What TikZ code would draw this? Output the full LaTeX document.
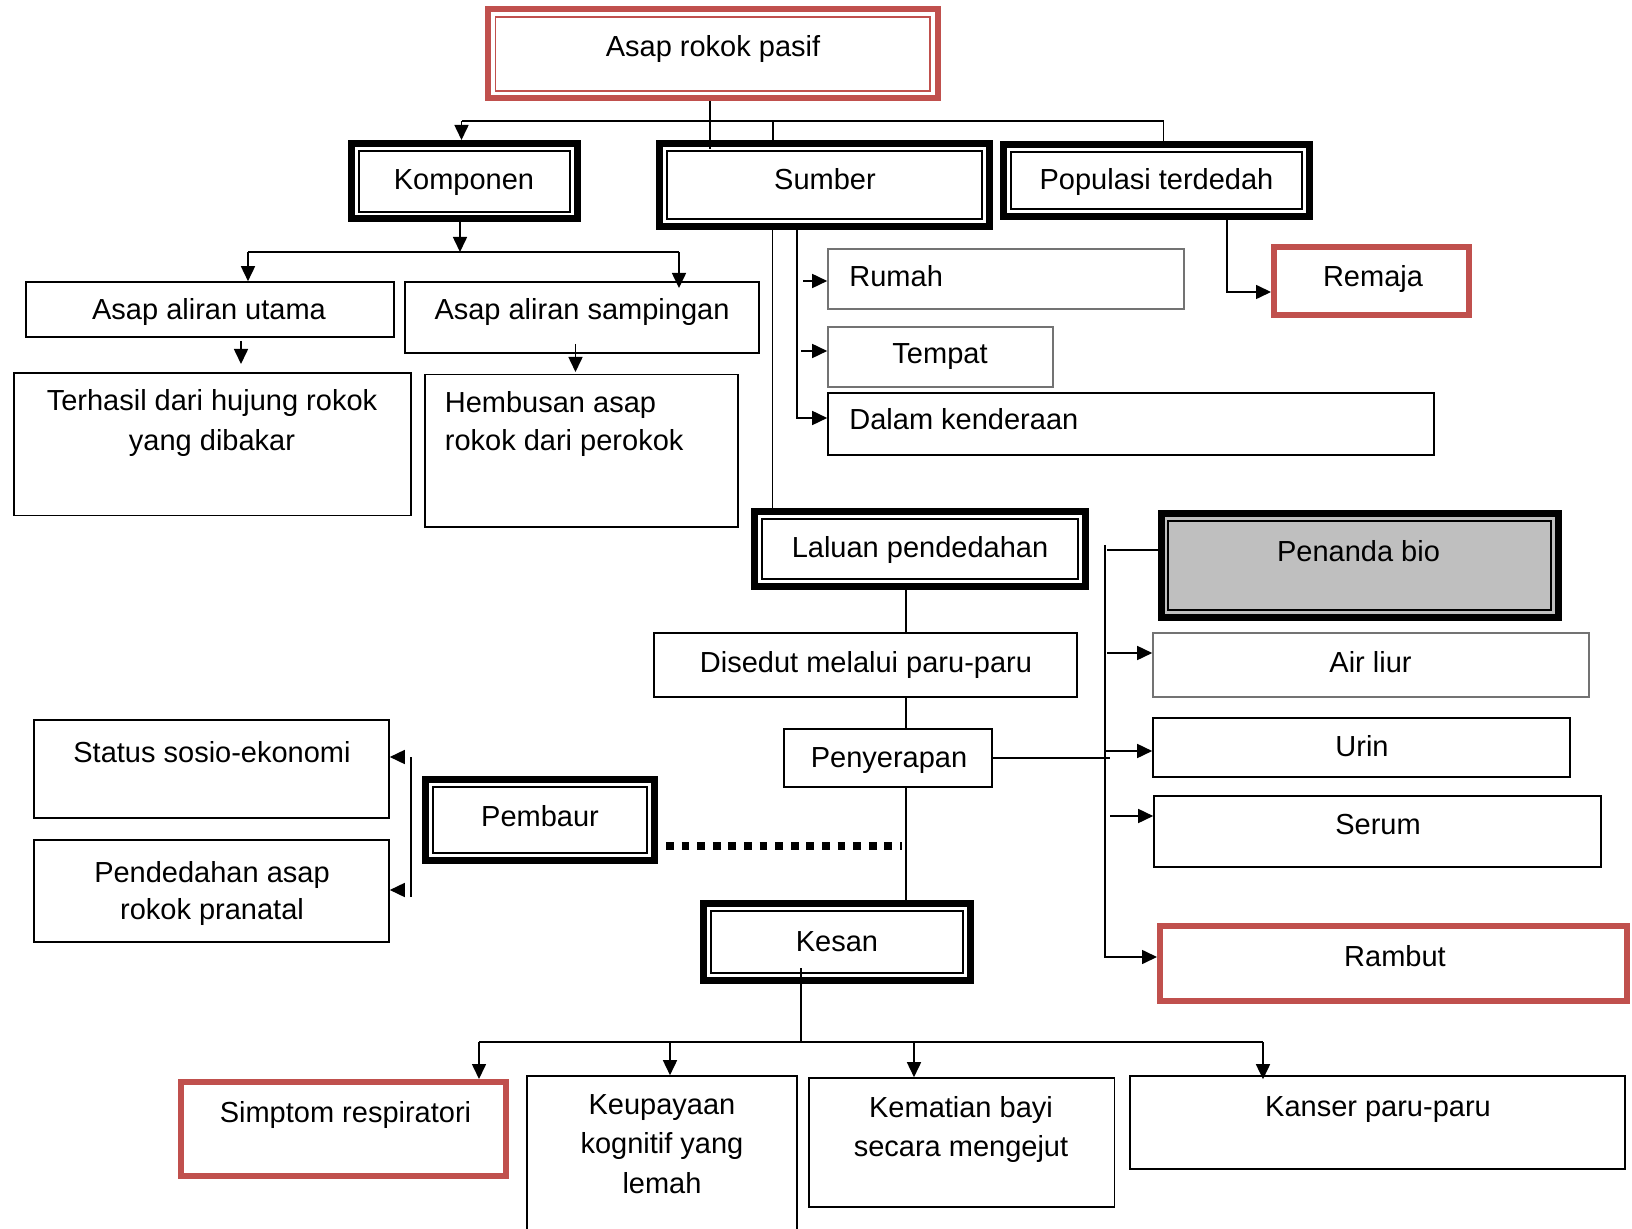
\documentclass[tikz,border=0pt]{standalone}
\usepackage{fontspec}
\setmainfont{Liberation Sans}
\usetikzlibrary{arrows.meta,fit}
\definecolor{redbox}{HTML}{C0504D}
\definecolor{biogray}{HTML}{BFBFBF}
\begin{document}
\begin{tikzpicture}[x=0.5pt,y=-0.5pt,
  font=\fontsize{14.5pt}{20pt}\selectfont,
  bx/.style={draw, line width=0.8pt, inner sep=0pt},
  gbx/.style={bx, draw=black!55},
  dbx/.style={draw, line width=3.5pt, inner sep=0pt,
    path picture={\draw[line width=1pt]
      ([shift={(3.6pt,3.6pt)}]path picture bounding box.south west) rectangle
      ([shift={(-3.6pt,-3.6pt)}]path picture bounding box.north east);}},
  rdbx/.style={draw=redbox, line width=3pt, inner sep=0pt,
    path picture={\draw[redbox, line width=0.8pt]
      ([shift={(3.65pt,3.65pt)}]path picture bounding box.south west) rectangle
      ([shift={(-3.65pt,-3.65pt)}]path picture bounding box.north east);}},
  rbx/.style={draw=redbox, line width=3pt, inner sep=0pt},
  txt/.style={inner sep=0pt, anchor=base},
  ltxt/.style={inner sep=0pt, anchor=base west},
  conn/.style={line width=0.8pt},
  arr/.style={conn, -{Triangle[length=7.5pt,width=7pt]}},
  dots/.style={line width=4pt, dash pattern=on 3.9pt off 3.9pt}
]
\useasboundingbox (0,0) rectangle (1632,1229);
\clip (0,0) rectangle (1632,1229);

% ---------- boxes ----------
\node[rdbx, fit={(488,9.5) (937.5,98.5)}] (top) {};
\node[dbx, fit={(351.5,143.5) (577.5,219)}] (komp) {};
\node[dbx, fit={(659.5,143.5) (989.5,226.5)}] (sum) {};
\node[dbx, fit={(1003.5,144.5) (1309.5,216.5)}] (pop) {};
\node[bx, fit={(26,282) (394,337)}] (utama) {};
\node[bx, fit={(405,282) (759,353)}] (samp) {};
\node[bx, fit={(14,373) (411,515.5)}] (terh) {};
\node[bx, fit={(425,374.5) (738,527)}] (hemb) {};
\node[gbx, fit={(828,249) (1184,309)}] (rumah) {};
\node[gbx, fit={(828,327) (1053,387)}] (tempat) {};
\node[bx, fit={(828,393) (1434,455)}] (dalam) {};
\node[rbx, fit={(1274,247) (1469,315)}] (rem) {};
\node[dbx, fit={(754.5,511.5) (1085.5,586.5)}] (lal) {};
\node[dbx, fill=biogray, fit={(1161,514) (1558.5,617)}] (pen) {};
\node[bx, fit={(654,633) (1077,697)}] (dis) {};
\node[gbx, fit={(1153,633) (1589,697)}] (air) {};
\node[bx, fit={(784,729) (992,787)}] (peny) {};
\node[bx, fit={(1153,718) (1570,777)}] (urin) {};
\node[bx, fit={(1154,796) (1601,867)}] (serum) {};
\node[rbx, fit={(1160,926) (1627,1001)}] (ramb) {};
\node[bx, fit={(34,720) (389,818)}] (stat) {};
\node[bx, fit={(34,840) (389,942)}] (pend) {};
\node[dbx, fit={(425.5,779.5) (654.5,860.5)}] (pemb) {};
\node[dbx, fit={(703.5,903.5) (970.5,980.5)}] (kes) {};
\node[rbx, fit={(181,1082) (506,1176)}] (simp) {};
\node[bx, fit={(527,1076) (797,1240)}] (keu) {};
\node[bx, fit={(809,1078) (1114.5,1207)}] (kem) {};
\node[bx, fit={(1130,1076) (1625,1169)}] (kan) {};

% ---------- texts (multi-line nodes: base = last line) ----------
\node[txt] (top-t) at (713,57) {Asap rokok pasif};
\node[txt] (komp-t) at (464,190) {Komponen};
\node[txt] (sum-t) at (825,190) {Sumber};
\node[txt] (pop-t) at (1156.5,190) {Populasi terdedah};
\node[txt] (utama-t) at (209,320) {Asap aliran utama};
\node[txt] (samp-t) at (582,320) {Asap aliran sampingan};
\node[txt, align=center] (terh-t) at (212,451) {Terhasil dari hujung rokok\\yang dibakar};
\node[ltxt, align=left, font=\fontsize{14.5pt}{19.3pt}\selectfont] (hemb-t) at (444.5,451) {Hembusan asap\\rokok dari perokok};
\node[ltxt] (rumah-t) at (849,287) {Rumah};
\node[txt] (tempat-t) at (940,364) {Tempat};
\node[ltxt] (dalam-t) at (849,430) {Dalam kenderaan};
\node[txt] (rem-t) at (1373,287) {Remaja};
\node[txt] (lal-t) at (920,558) {Laluan pendedahan};
\node[txt] (pen-t) at (1358.5,561) {Penanda bio};
\node[txt] (dis-t) at (866,672) {Disedut melalui paru-paru};
\node[txt] (air-t) at (1370.5,672) {Air liur};
\node[txt] (peny-t) at (889,767) {Penyerapan};
\node[txt] (urin-t) at (1362,756) {Urin};
\node[txt] (serum-t) at (1378,834) {Serum};
\node[txt] (ramb-t) at (1395,966) {Rambut};
\node[txt] (stat-t) at (212,762) {Status sosio-ekonomi};
\node[txt, align=center, font=\fontsize{14.5pt}{18.5pt}\selectfont] (pend-t) at (212,919) {Pendedahan asap\\rokok pranatal};
\node[txt] (pemb-t) at (540,826) {Pembaur};
\node[txt] (kes-t) at (837,951) {Kesan};
\node[txt] (simp-t) at (345.5,1122) {Simptom respiratori};
\node[txt, align=center, font=\fontsize{14.5pt}{19.75pt}\selectfont] (keu-t) at (662,1193) {Keupayaan\\kognitif yang\\lemah};
\node[txt, align=center, font=\fontsize{14.5pt}{19.5pt}\selectfont] (kem-t) at (961,1156) {Kematian bayi\\secara mengejut};
\node[txt] (kan-t) at (1378,1116) {Kanser paru-paru};

% ---------- connectors ----------
\coordinate (tbL) at (461.5,121);
\coordinate (tbR) at (1163.5,121);
\coordinate (tbS) at (773,121);
\coordinate (tbT) at (710,149);
\draw[conn] (top.south -| tbT) -- (tbT);
\draw[conn] (tbR) -- (tbL);
\draw[arr] (tbL) -- (komp.north -| tbL);
\draw[conn] (tbS) -- (sum.north -| tbS);
\draw[conn] (tbR) -- (pop.north -| tbR);

\coordinate (kb) at (460,252);
\coordinate (kbL) at (248,252);
\coordinate (kbR) at (679,252);
\coordinate (sampA) at (679,288);
\draw[arr] (komp.south -| kb) -- (kb);
\draw[conn] (kbL) -- (kbR);
\draw[arr] (kbL) -- (utama.north -| kbL);
\draw[arr] (kbR) -- (sampA);
\coordinate (ua) at (241,341);
\coordinate (ub) at (241,364);
\draw[arr] (ua) -- (ub);
\coordinate (sa1) at (575.5,344);
\coordinate (sa2) at (575.5,372);
\draw[arr] (sa1) -- (sa2);

\coordinate (sv1) at (772.5,300);
\draw[conn] (sum.south -| sv1) -- (lal.north -| sv1);
\coordinate (sv2) at (797,418);
\draw[arr] (sum.south -| sv2) -- (sv2) -- (dalam.west |- sv2);
\coordinate (ra) at (803,281);
\draw[arr] (ra) -- (rumah.west |- ra);
\coordinate (ta) at (801,351);
\draw[arr] (ta) -- (tempat.west |- ta);

\coordinate (pr) at (1227,292);
\draw[arr] (pop.south -| pr) -- (pr) -- (rem.west |- pr);

\coordinate (mv) at (906,700);
\draw[conn] (lal.south -| mv) -- (dis.north -| mv);
\draw[conn] (dis.south -| mv) -- (peny.north -| mv);
\draw[conn] (peny.south -| mv) -- (kes.north -| mv);
\coordinate (pe) at (1110,757.5);
\draw[conn] (peny.east) -- (peny.east -| pe);

\coordinate (bt) at (1105,545);
\coordinate (bb) at (1105,957);
\draw[arr] (bt) -- (bb) -- (ramb.west |- bb);
\coordinate (pb) at (1107,550);
\draw[conn] (pb) -- (pen.west |- pb);
\coordinate (aa) at (1107,653);
\draw[arr] (aa) -- (air.west |- aa);
\coordinate (ua2) at (1106,751);
\draw[arr] (ua2) -- (urin.west |- ua2);
\coordinate (sra) at (1110,816);
\draw[arr] (sra) -- (serum.west |- sra);

\coordinate (dr) at (902,846);
\draw[dots, shorten <=4pt] (pemb.east |- dr) -- (dr);

\coordinate (lbt) at (411,757);
\coordinate (lbb) at (411,897);
\draw[conn] (lbt) -- (lbb);
\coordinate (la1) at (405,757);
\draw[arr] (la1) -- (stat.east |- la1);
\coordinate (la2) at (405,890);
\draw[arr] (la2) -- (pend.east |- la2);

\coordinate (kt) at (801,968);
\coordinate (kbus) at (801,1042);
\draw[conn] (kt) -- (kbus);
\coordinate (b1) at (479,1042);
\coordinate (b2) at (670,1042);
\coordinate (b3) at (914,1042);
\coordinate (b4) at (1263,1042);
\draw[conn] (b1) -- (b4);
\draw[arr] (b1) -- (simp.north -| b1);
\draw[arr] (b2) -- (keu.north -| b2);
\draw[arr] (b3) -- (kem.north -| b3);
\draw[arr] (b4) -- ([yshift=-2pt]kan.north -| b4);
\end{tikzpicture}
\end{document}
